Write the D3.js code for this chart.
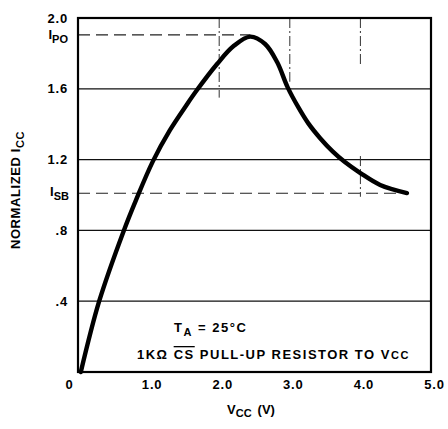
<!DOCTYPE html>
<html>
<head>
<meta charset="utf-8">
<script src="https://cdn.jsdelivr.net/npm/d3@7"></script>
<style>
  body { margin: 0; background: #fff; }
  svg { display: block; font-family: "Liberation Sans", Arial, sans-serif; }
</style>
</head>
<body>
<svg id="chart" width="448" height="429"></svg>
<script>
// ---- data ----
const vcc = [0.04, 0.30, 0.65, 0.82, 1.06, 1.30, 1.54, 1.68, 1.97, 2.20, 2.44, 2.65, 2.82, 2.97, 3.12, 3.26, 3.43, 3.61, 3.78, 4.00, 4.28, 4.66];
const icc = [0.00, 0.40, 0.80, 0.97, 1.19, 1.365, 1.51, 1.59, 1.74, 1.84, 1.895, 1.853, 1.751, 1.608, 1.496, 1.406, 1.321, 1.245, 1.186, 1.124, 1.057, 1.011];
const yTicks = [0.4, 0.8, 1.2, 1.6, 2.0];
const yTickLabels = [".4", ".8", "1.2", "1.6", "2.0"];
const xTicks = [0, 1, 2, 3, 4, 5];
const xTickLabels = ["0", "1.0", "2.0", "3.0", "4.0", "5.0"];
const gridY = [0.4, 0.8, 1.2, 1.6];
const iPO = 1.905, iPOV = 2.44;
const iSB = 1.01, iSBV = 4.66;
// partial vertical guide segments [V, Ifrom, Ito]
const vGuides = [[2, 2.0, 1.55], [3, 2.0, 1.64], [4, 2.0, 1.74], [4, 1.22, 0.99]];

// ---- scales ----
const svg = d3.select("#chart");
const x = d3.scaleLinear().domain([0, 5]).range([78, 431]);
const y = d3.scaleLinear().domain([0, 2]).range([372, 18]);

// horizontal grid
svg.append("g").selectAll("line").data(gridY).join("line")
  .attr("x1", x(0)).attr("x2", x(5))
  .attr("y1", d => y(d)).attr("y2", d => y(d))
  .attr("stroke", "#111").attr("stroke-width", 1.3);

// vertical partial guides
svg.append("g").selectAll("line").data(vGuides).join("line")
  .attr("x1", d => x(d[0])).attr("x2", d => x(d[0]))
  .attr("y1", d => y(d[1])).attr("y2", d => y(d[2]))
  .attr("stroke", "#333").attr("stroke-width", 1)
  .attr("stroke-dasharray", "10,3,2,3");

// dashed reference lines
svg.append("line")
  .attr("x1", x(0)).attr("x2", x(iPOV))
  .attr("y1", y(iPO)).attr("y2", y(iPO))
  .attr("stroke", "#222").attr("stroke-width", 1.2).attr("stroke-dasharray", "12,6");
svg.append("line")
  .attr("x1", x(0)).attr("x2", x(iSBV))
  .attr("y1", y(iSB)).attr("y2", y(iSB))
  .attr("stroke", "#222").attr("stroke-width", 1.2).attr("stroke-dasharray", "12,6");

// frame
svg.append("rect")
  .attr("x", x(0)).attr("y", y(2))
  .attr("width", x(5) - x(0)).attr("height", y(0) - y(2))
  .attr("fill", "none").attr("stroke", "#000").attr("stroke-width", 2.2);

// curve
const pts = vcc.map((v, i) => [v, icc[i]]);
svg.append("path")
  .datum(pts)
  .attr("d", d3.line().x(d => x(d[0])).y(d => y(d[1])).curve(d3.curveCatmullRom.alpha(0.5)))
  .attr("fill", "none").attr("stroke", "#000").attr("stroke-width", 4.4)
  .attr("stroke-linecap", "round").attr("stroke-linejoin", "round");

// y axis
const yAxis = d3.axisLeft(y).tickValues(yTicks).tickSize(0).tickPadding(10)
  .tickFormat((d, i) => yTickLabels[i]);
const gy = svg.append("g").attr("transform", `translate(${x(0)},0)`).call(yAxis);
gy.select(".domain").remove();
gy.selectAll("text").attr("font-size", 13).attr("font-weight", "bold")
  .attr("font-family", "Liberation Sans, Arial, sans-serif").attr("fill", "#000")
  .attr("letter-spacing", 0.8);

// x axis
const xAxis = d3.axisBottom(x).tickValues(xTicks).tickSize(0).tickPadding(8)
  .tickFormat((d, i) => xTickLabels[i]);
const gx = svg.append("g").attr("transform", `translate(0,${y(0)})`).call(xAxis);
gx.select(".domain").remove();
gx.selectAll("text").attr("font-size", 13).attr("font-weight", "bold")
  .attr("font-family", "Liberation Sans, Arial, sans-serif").attr("fill", "#000")
  .attr("letter-spacing", 0.8)
  .attr("dx", d => d === 0 ? -9 : 3);

// I_PO and I_SB labels
function subLabel(xp, yp, main, sub) {
  const t = svg.append("text").attr("x", xp).attr("y", yp)
    .attr("text-anchor", "end").attr("font-size", 13).attr("font-weight", "bold");
  t.append("tspan").text(main);
  t.append("tspan").attr("font-size", 11).attr("dy", 4).text(sub);
}
subLabel(68, y(iPO) + 4, "I", "PO");
subLabel(69, y(iSB) + 3, "I", "SB");

// y axis title
const yt = svg.append("text")
  .attr("transform", "translate(20,190) rotate(-90)")
  .attr("text-anchor", "middle").attr("font-size", 13).attr("font-weight", "bold")
  .attr("letter-spacing", 0.6);
yt.append("tspan").text("NORMALIZED   I");
yt.append("tspan").attr("font-size", 11).attr("dy", 4).text("CC");

// x axis title
const xt = svg.append("text").attr("x", 251).attr("y", 414)
  .attr("text-anchor", "middle").attr("font-size", 13).attr("font-weight", "bold");
xt.append("tspan").text("V");
xt.append("tspan").attr("font-size", 11).attr("dy", 3).text("CC");
xt.append("tspan").attr("dy", -3).attr("dx", 6).text("(V)");

// annotations
const a1 = svg.append("text").attr("x", 174).attr("y", 332)
  .attr("font-size", 13).attr("font-weight", "bold").attr("letter-spacing", 1.5);
a1.append("tspan").text("T");
a1.append("tspan").attr("font-size", 11).attr("dy", 4).text("A");
a1.append("tspan").attr("dy", -4).text(" = 25°C");

const a2 = svg.append("text").attr("x", 137).attr("y", 359)
  .attr("font-size", 13).attr("font-weight", "bold").attr("letter-spacing", 1.5);
a2.append("tspan").text("1KΩ ");
a2.append("tspan").style("text-decoration", "overline").text("CS");
a2.append("tspan").text(" PULL-UP RESISTOR TO V");
a2.append("tspan").attr("font-size", 11).text("CC");
</script>
</body>
</html>
